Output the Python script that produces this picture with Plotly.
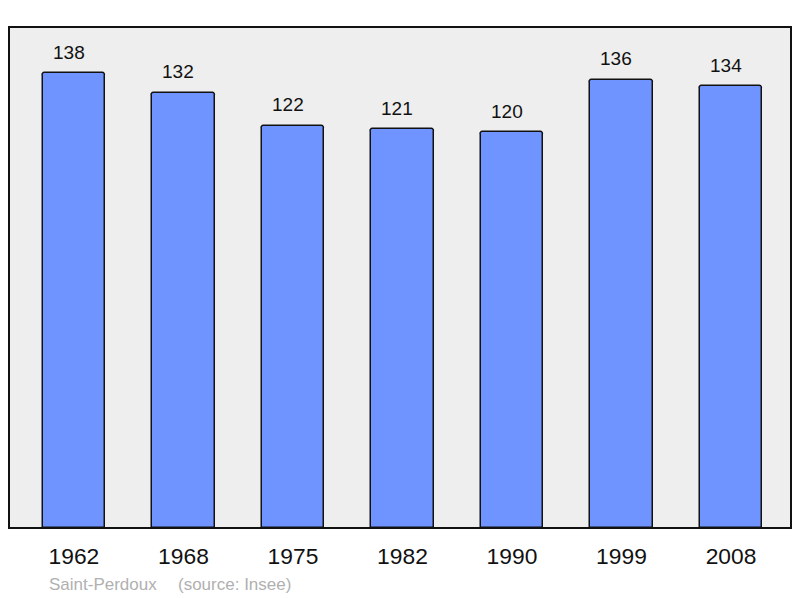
import plotly.graph_objects as go

years = ["1962", "1968", "1975", "1982", "1990", "1999", "2008"]
population = [138, 132, 122, 121, 120, 136, 134]
commune = "Saint-Perdoux"
source = "(source: Insee)"

W, H = 800, 598
L, R, T, B = 9, 9, 27, 70
pw = W - L - R
pos = list(range(len(years)))

fig = go.Figure()
fig.add_trace(go.Bar(
    x=pos, y=population,
    width=0.57,
    marker=dict(color="#7094ff", line=dict(color="#111111", width=1.5), cornerradius=3),
    hoverinfo="skip",
))

for i, v in zip(pos, population):
    fig.add_annotation(x=i, y=v, xref="x", yref="y", text=str(v), showarrow=False,
                       yanchor="middle", yshift=21, xshift=-5,
                       font=dict(family="Liberation Sans, Arial", size=19, color="#111111"))

fig.add_annotation(xref="paper", yref="paper", x=(47 - L) / pw, y=0, yshift=-56,
                   xanchor="left", yanchor="middle", showarrow=False, text=commune,
                   font=dict(family="Liberation Sans, Arial", size=17, color="#b0b0b0"))
fig.add_annotation(xref="paper", yref="paper", x=(176 - L) / pw, y=0, yshift=-56,
                   xanchor="left", yanchor="middle", showarrow=False, text=source,
                   font=dict(family="Liberation Sans, Arial", size=17, color="#b0b0b0"))

fig.add_shape(type="rect", xref="paper", yref="paper", x0=0, x1=1, y0=0, y1=1,
              line=dict(color="#111111", width=2), layer="above")

fig.update_layout(
    width=W, height=H,
    margin=dict(l=L, r=R, t=T, b=B),
    paper_bgcolor="white",
    plot_bgcolor="#eeeeee",
    showlegend=False,
    bargap=0,
    xaxis=dict(range=[-0.593, 6.548], showgrid=False, zeroline=False,
               showline=False, ticks="", ticklabelstandoff=12,
               tickmode="array", tickvals=pos, ticktext=years,
               tickfont=dict(family="Liberation Sans, Arial", size=22.8, color="#111111")),
    yaxis=dict(range=[0, 152], showgrid=False, zeroline=False, showticklabels=False,
               showline=False, ticks=""),
)

fig.write_html("out.html", config={"displayModeBar": False},
               post_script="document.body.style.margin='0';")
